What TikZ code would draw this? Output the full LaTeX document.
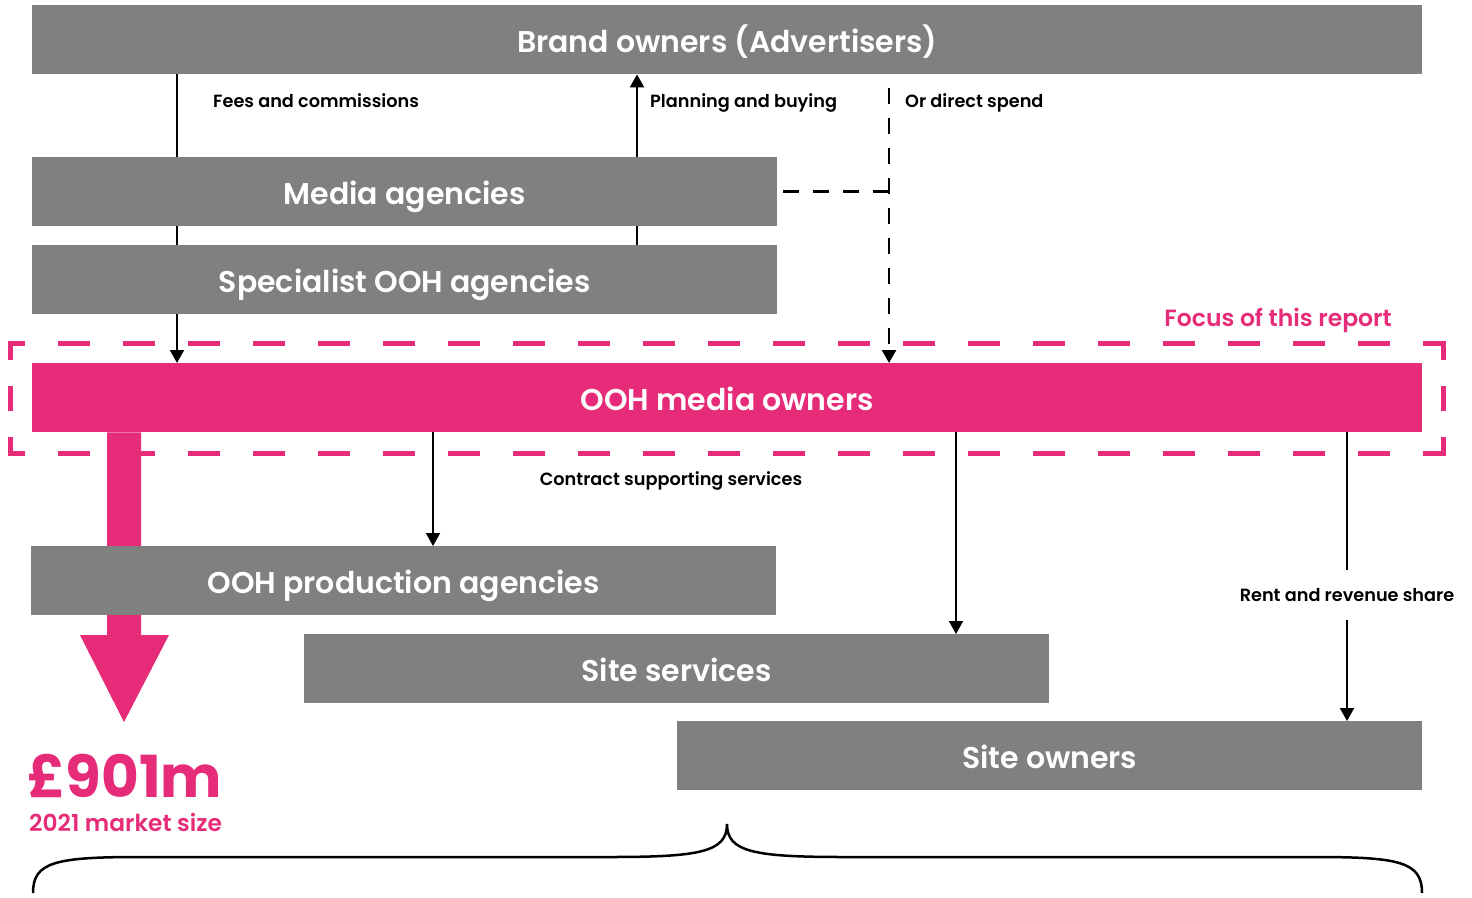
\documentclass[tikz,border=0pt]{standalone}
\usepackage{fontspec}
\setmainfont{Poppins}[BoldFont={Poppins SemiBold}]
\newfontfamily\heavyfont{Poppins Bold}
\usetikzlibrary{arrows.meta,backgrounds}
\definecolor{boxgray}{RGB}{128,128,128}
\definecolor{oohpink}{RGB}{230,43,120}
\begin{document}
\begin{tikzpicture}[x=1pt,y=-1pt,
  box/.style={fill=boxgray, text=white, minimum height=69pt, inner sep=0pt,
    text height=26pt, text depth=0pt,
    anchor=north west, font=\bfseries\fontsize{30}{32}\selectfont},
  tip/.style={-{Triangle[length=13pt,width=14pt]}},
  flow/.style={draw=black, line width=2pt, tip},
  plainline/.style={draw=black, line width=2pt},
  blackdash/.style={draw=black, line width=2.5pt, dash pattern=on 16pt off 14pt},
  pinkdash/.style={draw=oohpink, line width=5pt, dash pattern=on 32pt off 33pt, dash phase=15pt},
  pinkdashv/.style={draw=oohpink, line width=5pt, dash pattern=on 25pt off 26pt, dash phase=8pt},
  lbl/.style={font=\bfseries\fontsize{17.7}{20}\selectfont, inner sep=0pt}
]
\useasboundingbox (0,0) rectangle (1472,897);

% boxes
\node[box, minimum width=1390pt] (brand) at (32,5) {Brand owners (Advertisers)};
\node[box, minimum width=745pt] (media) at (32,157) {Media agencies};
\node[box, minimum width=745pt] (spec) at (32,245) {Specialist OOH agencies};
\node[box, minimum width=1390pt, fill=oohpink] (ooh) at (32,363) {OOH media owners};
\node[box, minimum width=745pt] (prod) at (31,546) {OOH production agencies};
\node[box, minimum width=745pt] (sites) at (304,634) {Site services};
\node[box, minimum width=745pt] (owners) at (677,721) {Site owners};

% x positions of the connectors
\coordinate (xf) at (177,0);
\coordinate (xp) at (637,0);
\coordinate (xd) at (889,0);
\coordinate (xc1) at (433,0);
\coordinate (xc2) at (956,0);

% labels
\node[lbl, anchor=base west] (fees) at (213,107) {Fees and commissions};
\node[lbl, anchor=base west] (plan) at (650,107) {Planning and buying};
\node[lbl, anchor=base west] (direct) at (905,107) {Or direct spend};
\node[lbl, anchor=base] (contract) at (671,485) {Contract supporting services};
\node[lbl, text height=13pt, text depth=0pt, minimum height=49pt] (rent) at (1347,595) {Rent and revenue share};
\node[font=\bfseries\fontsize{23.5}{25}\selectfont, text=oohpink, inner sep=0pt, anchor=base east] (focus) at (1392,326) {Focus of this report};
\node[font=\heavyfont\fontsize{58}{60}\selectfont, text=oohpink, inner sep=0pt, anchor=base west] (size) at (27,797) {£901m};
\node[font=\bfseries\fontsize{23.3}{25}\selectfont, text=oohpink, inner sep=0pt, anchor=base west] (sizelbl) at (29,831) {2021 market size};

\begin{scope}[on background layer]
  % money flows between advertisers, agencies and media owners
  \draw[flow] (brand.south -| xf) -- (ooh.north -| xf);
  \draw[flow] (spec.north -| xp) -- (brand.south -| xp);
  \draw[blackdash, dash phase=16pt, tip] (brand.south -| xd) -- (ooh.north -| xd);
  \draw[blackdash, dash phase=24pt] (media.east) -- (media.east -| xd);
  % flows out of the media owners
  \draw[flow] (ooh.south -| xc1) -- (prod.north -| xc1);
  \draw[flow] (ooh.south -| xc2) -- (sites.north -| xc2);
  \draw[plainline] (ooh.south -| rent) -- (rent.north);
  \draw[flow] (rent.south) -- (owners.north -| rent);
  % market size arrow
  \fill[oohpink] (ooh.south -| 107,0) -- (ooh.south -| 141,0) -- (141,635) -- (169,635)
    -- (124,722) -- (80,635) -- (107,635) -- cycle;
\end{scope}

% frame around the media owners
\draw[pinkdash] (7.5,343) -- (1445.5,343);
\draw[pinkdash] (7.5,453) -- (1445.5,453);
\draw[pinkdashv] (10,343) -- (10,453);
\draw[pinkdashv] (1443,343) -- (1443,453);

% brace spanning the value chain
\draw[line width=2.5pt] (33,893) .. controls (33,862) and (55,857) .. (140,857) -- (610,857)
  .. controls (700,857) and (727,852) .. (727,824)
  .. controls (727,852) and (754,857) .. (844,857) -- (1315,857)
  .. controls (1400,857) and (1422,862) .. (1422,893);
\end{tikzpicture}
\end{document}
